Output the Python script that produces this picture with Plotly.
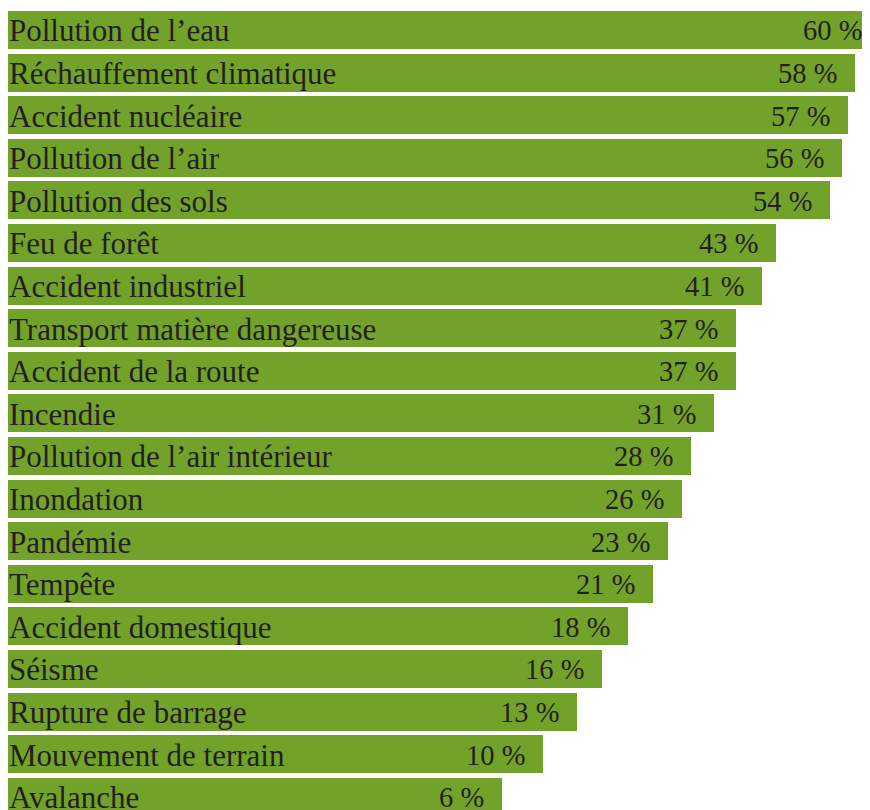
import plotly.graph_objects as go

categories = [
    "Pollution de l’eau", "Réchauffement climatique", "Accident nucléaire",
    "Pollution de l’air", "Pollution des sols", "Feu de forêt",
    "Accident industriel", "Transport matière dangereuse", "Accident de la route",
    "Incendie", "Pollution de l’air intérieur", "Inondation", "Pandémie",
    "Tempête", "Accident domestique", "Séisme", "Rupture de barrage",
    "Mouvement de terrain", "Avalanche",
]
percent = [60, 58, 57, 56, 54, 43, 41, 37, 37, 31, 28, 26, 23, 21, 18, 16, 13, 10, 6]
# bar lengths as drawn in the original graphic (relative scale)
bar_lengths = [100.2, 97.4, 96.6, 95.9, 94.5, 88.3, 86.7, 83.7, 83.7, 81.1,
               78.5, 77.5, 75.9, 74.1, 71.3, 68.3, 65.4, 61.5, 56.8]
value_labels = [f"{p} %" for p in percent]

GREEN = "#73A22B"
TEXT = "#231f20"
FONT = "Liberation Serif"
X_MAX = 99.08

fig = go.Figure()
fig.add_trace(go.Bar(
    x=bar_lengths, y=categories, orientation="h",
    marker=dict(color=GREEN, line=dict(width=0)),
    width=0.892, hoverinfo="skip",
))

annotations = []
for cat, length, lab in zip(categories, bar_lengths, value_labels):
    annotations.append(dict(
        x=0, y=cat, xref="x", yref="y", text=cat, showarrow=False,
        xanchor="left", yanchor="middle", xshift=-1, yshift=-1,
        font=dict(family=FONT, size=31, color=TEXT),
    ))
    clipped = length > X_MAX
    annotations.append(dict(
        x=X_MAX if clipped else length, y=cat, xref="x", yref="y", text=lab,
        showarrow=False, xanchor="right", yanchor="middle",
        xshift=-6 if clipped else -16, yshift=-1,
        font=dict(family=FONT, size=28.5, color=TEXT),
    ))

fig.update_layout(
    width=862, height=802,
    margin=dict(l=0, r=0, t=0, b=0),
    paper_bgcolor="white", plot_bgcolor="white",
    showlegend=False,
    bargap=0,
    annotations=annotations,
    xaxis=dict(range=[0, X_MAX], visible=False, fixedrange=True),
    yaxis=dict(categoryorder="array", categoryarray=categories,
               range=[18.31, -0.516], visible=False, fixedrange=True),
)

fig.write_html("out.html")
